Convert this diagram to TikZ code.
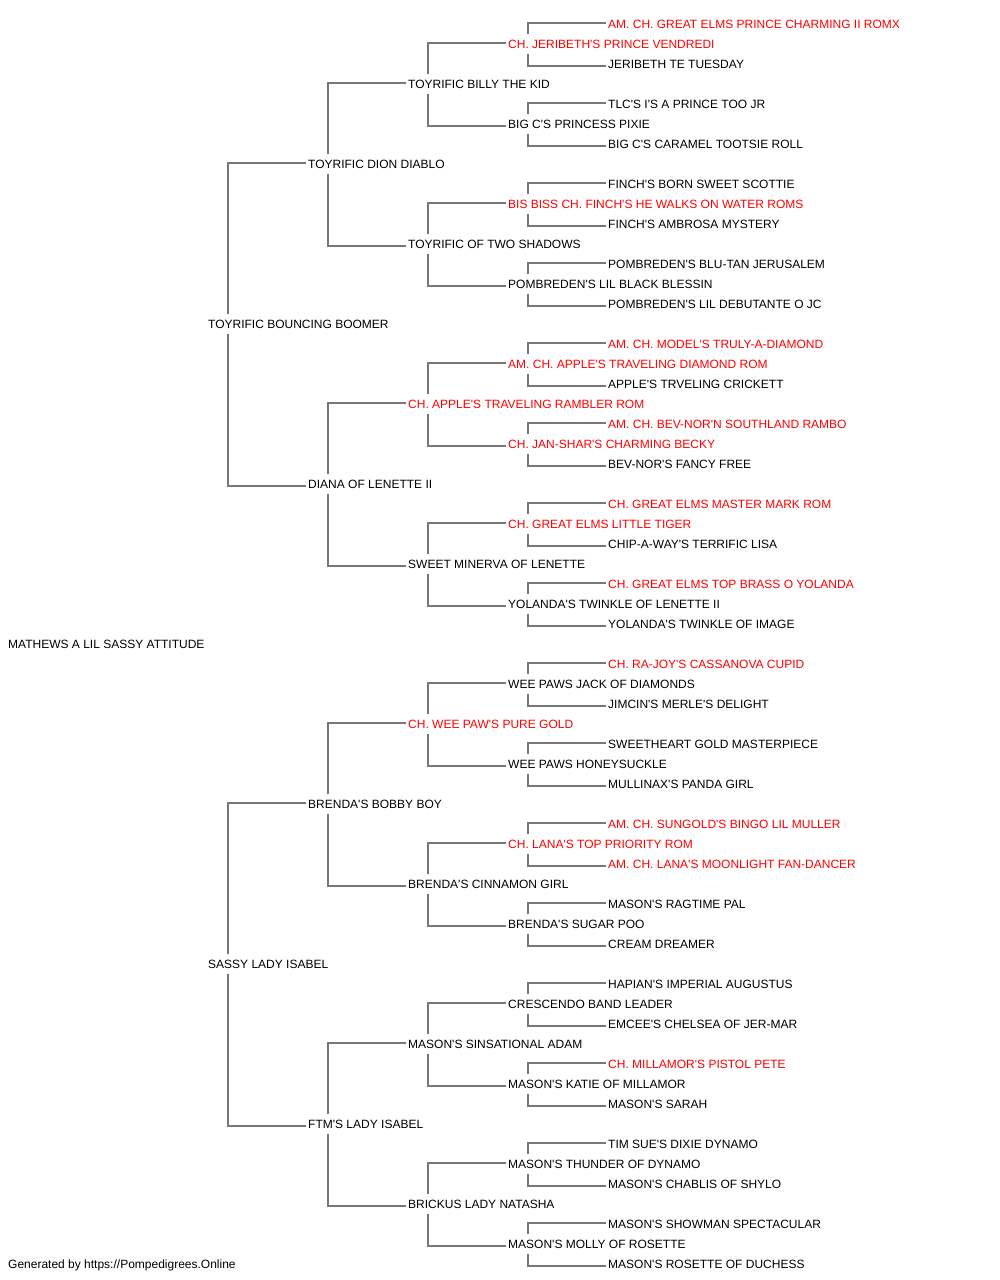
\documentclass[tikz,border=0pt]{standalone}
\usepackage{fontspec}
\usepackage{tikz}
\usetikzlibrary{calc}
\newfontfamily\pedfont{Liberation Sans}
\definecolor{champred}{RGB}{255,0,0}
\definecolor{pedgray}{RGB}{119,119,119}
\begin{document}
\begin{tikzpicture}[x=1pt,y=1pt,grow'=right,growth parent anchor=west,
	dog/.style={anchor=west,inner xsep=2pt,inner ysep=5.5pt,text height=9pt,text depth=0pt,font=\fontsize{12}{14}\pedfont},
	champ/.style={dog,text=champred},
	pedline/.style={draw=pedgray,line width=2pt},
	edge from parent path={let \p1=(\tikzparentnode.west), \p2=(\tikzchildnode.west), \n1={sign(\y2-\y1)} in (\x1+22pt,\y1+10*\n1) |- (\x2,\y2+1.5*\n1-0.5)},
	level/.style={level distance=100pt,sibling distance=1280pt/2^#1},
	level 1/.style={level distance=200pt,edge from parent/.style={draw=none}},
	level 2/.style={edge from parent/.style={pedline}}]
	\useasboundingbox (0,0) rectangle (1000,-1280);
	\node[dog] (dog) at (6,-644) {MATHEWS A LIL SASSY ATTITUDE}
		child {node[dog] (s) {TOYRIFIC BOUNCING BOOMER}
			child {node[dog] (ss) {TOYRIFIC DION DIABLO}
				child {node[dog] (sss) {TOYRIFIC BILLY THE KID}
					child {node[champ] (ssss) {CH. JERIBETH'S PRINCE VENDREDI}
						child {node[champ] (sssss) {AM. CH. GREAT ELMS PRINCE CHARMING II ROMX}}
						child {node[dog] (ssssd) {JERIBETH TE TUESDAY}}
					}
					child {node[dog] (sssd) {BIG C'S PRINCESS PIXIE}
						child {node[dog] (sssds) {TLC'S I'S A PRINCE TOO JR}}
						child {node[dog] (sssdd) {BIG C'S CARAMEL TOOTSIE ROLL}}
					}
				}
				child {node[dog] (ssd) {TOYRIFIC OF TWO SHADOWS}
					child {node[champ] (ssds) {BIS BISS CH. FINCH'S HE WALKS ON WATER ROMS}
						child {node[dog] (ssdss) {FINCH'S BORN SWEET SCOTTIE}}
						child {node[dog] (ssdsd) {FINCH'S AMBROSA MYSTERY}}
					}
					child {node[dog] (ssdd) {POMBREDEN'S LIL BLACK BLESSIN}
						child {node[dog] (ssdds) {POMBREDEN'S BLU-TAN JERUSALEM}}
						child {node[dog] (ssddd) {POMBREDEN'S LIL DEBUTANTE O JC}}
					}
				}
			}
			child {node[dog] (sd) {DIANA OF LENETTE II}
				child {node[champ] (sds) {CH. APPLE'S TRAVELING RAMBLER ROM}
					child {node[champ] (sdss) {AM. CH. APPLE'S TRAVELING DIAMOND ROM}
						child {node[champ] (sdsss) {AM. CH. MODEL'S TRULY-A-DIAMOND}}
						child {node[dog] (sdssd) {APPLE'S TRVELING CRICKETT}}
					}
					child {node[champ] (sdsd) {CH. JAN-SHAR'S CHARMING BECKY}
						child {node[champ] (sdsds) {AM. CH. BEV-NOR'N SOUTHLAND RAMBO}}
						child {node[dog] (sdsdd) {BEV-NOR'S FANCY FREE}}
					}
				}
				child {node[dog] (sdd) {SWEET MINERVA OF LENETTE}
					child {node[champ] (sdds) {CH. GREAT ELMS LITTLE TIGER}
						child {node[champ] (sddss) {CH. GREAT ELMS MASTER MARK ROM}}
						child {node[dog] (sddsd) {CHIP-A-WAY'S TERRIFIC LISA}}
					}
					child {node[dog] (sddd) {YOLANDA'S TWINKLE OF LENETTE II}
						child {node[champ] (sddds) {CH. GREAT ELMS TOP BRASS O YOLANDA}}
						child {node[dog] (sdddd) {YOLANDA'S TWINKLE OF IMAGE}}
					}
				}
			}
		}
		child {node[dog] (d) {SASSY LADY ISABEL}
			child {node[dog] (ds) {BRENDA'S BOBBY BOY}
				child {node[champ] (dss) {CH. WEE PAW'S PURE GOLD}
					child {node[dog] (dsss) {WEE PAWS JACK OF DIAMONDS}
						child {node[champ] (dssss) {CH. RA-JOY'S CASSANOVA CUPID}}
						child {node[dog] (dsssd) {JIMCIN'S MERLE'S DELIGHT}}
					}
					child {node[dog] (dssd) {WEE PAWS HONEYSUCKLE}
						child {node[dog] (dssds) {SWEETHEART GOLD MASTERPIECE}}
						child {node[dog] (dssdd) {MULLINAX'S PANDA GIRL}}
					}
				}
				child {node[dog] (dsd) {BRENDA'S CINNAMON GIRL}
					child {node[champ] (dsds) {CH. LANA'S TOP PRIORITY ROM}
						child {node[champ] (dsdss) {AM. CH. SUNGOLD'S BINGO LIL MULLER}}
						child {node[champ] (dsdsd) {AM. CH. LANA'S MOONLIGHT FAN-DANCER}}
					}
					child {node[dog] (dsdd) {BRENDA'S SUGAR POO}
						child {node[dog] (dsdds) {MASON'S RAGTIME PAL}}
						child {node[dog] (dsddd) {CREAM DREAMER}}
					}
				}
			}
			child {node[dog] (dd) {FTM'S LADY ISABEL}
				child {node[dog] (dds) {MASON'S SINSATIONAL ADAM}
					child {node[dog] (ddss) {CRESCENDO BAND LEADER}
						child {node[dog] (ddsss) {HAPIAN'S IMPERIAL AUGUSTUS}}
						child {node[dog] (ddssd) {EMCEE'S CHELSEA OF JER-MAR}}
					}
					child {node[dog] (ddsd) {MASON'S KATIE OF MILLAMOR}
						child {node[champ] (ddsds) {CH. MILLAMOR'S PISTOL PETE}}
						child {node[dog] (ddsdd) {MASON'S SARAH}}
					}
				}
				child {node[dog] (ddd) {BRICKUS LADY NATASHA}
					child {node[dog] (ddds) {MASON'S THUNDER OF DYNAMO}
						child {node[dog] (dddss) {TIM SUE'S DIXIE DYNAMO}}
						child {node[dog] (dddsd) {MASON'S CHABLIS OF SHYLO}}
					}
					child {node[dog] (dddd) {MASON'S MOLLY OF ROSETTE}
						child {node[dog] (dddds) {MASON'S SHOWMAN SPECTACULAR}}
						child {node[dog] (ddddd) {MASON'S ROSETTE OF DUCHESS}}
					}
				}
			}
		};
	\node[dog] (foot) at (6,-1264) {Generated by https://Pompedigrees.Online};
\end{tikzpicture}
\end{document}
